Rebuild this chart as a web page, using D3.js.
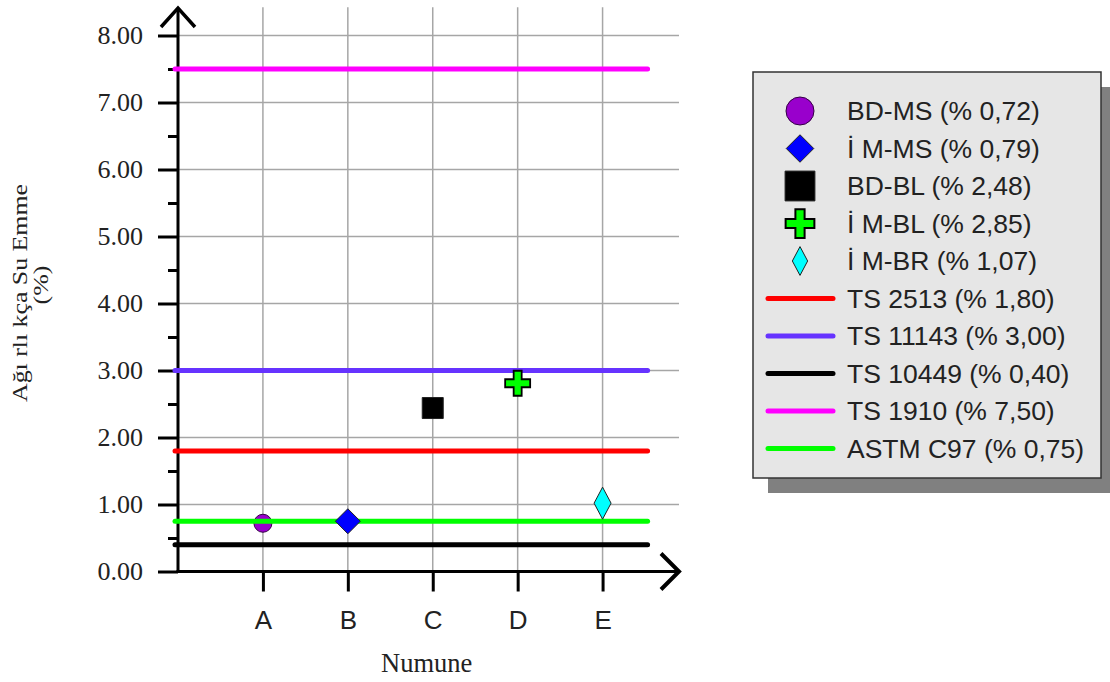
<!DOCTYPE html>
<html>
<head>
<meta charset="utf-8">
<script src="https://cdn.jsdelivr.net/npm/d3@7"></script>
<style>
  html, body { margin: 0; padding: 0; background: #ffffff; }
  svg { display: block; }
</style>
</head>
<body>
<svg id="chart" width="1110" height="682"></svg>
<script>
// ---------- DATA ----------
const categories = ["A", "B", "C", "D", "E"];
const categoryPositions = [1, 2, 3, 4, 5];

const pointNames = ["BD-MS (% 0,72)", "İ M-MS (% 0,79)", "BD-BL (% 2,48)", "İ M-BL (% 2,85)", "İ M-BR (% 1,07)"];
const pointCategories = ["A", "B", "C", "D", "E"];
// values as plotted in the picture
const pointValues = [0.72, 0.75, 2.44, 2.81, 1.02];
const pointSymbols = ["circle", "diamond", "square", "plus", "thinDiamond"];
const pointColors = ["#9900cc", "#0000ff", "#000000", "#00ff00", "#00ffff"];

const limitNames = ["TS 2513 (% 1,80)", "TS 11143 (% 3,00)", "TS 10449 (% 0,40)", "TS 1910 (% 7,50)", "ASTM C97 (% 0,75)"];
const limitValues = [1.80, 3.00, 0.40, 7.50, 0.75];
const limitColors = ["#ff0000", "#6633ff", "#000000", "#ff00ff", "#00ff00"];

const yTicks = [0, 1, 2, 3, 4, 5, 6, 7, 8];
const yTickLabels = ["0.00", "1.00", "2.00", "3.00", "4.00", "5.00", "6.00", "7.00", "8.00"];
const yMinorTicks = [0.5, 1.5, 2.5, 3.5, 4.5, 5.5, 6.5, 7.5];

const yAxisTitle = ["Ağı rlı kça Su Emme", "(%)"];
const xAxisTitle = "Numune";

// ---------- SETUP ----------
const svg = d3.select("#chart");
const x = d3.scaleLinear().domain([0, 5.9]).range([178, 679]);
const y = d3.scaleLinear().domain([0, 8]).range([571.5, 35.5]);
const catX = d3.scalePoint().domain(categories).range([x(categoryPositions[0]), x(categoryPositions[4])]);

const serif = "'Liberation Serif', 'Times New Roman', serif";
const sans = "'Liberation Sans', Arial, sans-serif";

function symbolPath(type, s) {
  switch (type) {
    case "diamond": {
      const h = 12.5 * s;
      return `M0,${-h}L${h},0L0,${h}L${-h},0Z`;
    }
    case "square": {
      const h = 10.5 * s;
      return `M${-h},${-h}H${h}V${h}H${-h}Z`;
    }
    case "plus": {
      const a = 12.5 * s, t = 4 * s;
      return `M${-t},${-a}H${t}V${-t}H${a}V${t}H${t}V${a}H${-t}V${t}H${-a}V${-t}H${-t}Z`;
    }
    case "thinDiamond": {
      const w = 8.5 * s, h = 16 * s;
      return `M0,${-h}L${w},0L0,${h}L${-w},0Z`;
    }
  }
  return "";
}

// ---------- GRID ----------
const grid = svg.append("g").attr("class", "grid");
grid.selectAll("line.h").data(yTicks.filter(d => d > 0)).enter().append("line")
  .attr("x1", x(0)).attr("x2", x(5.9))
  .attr("y1", d => y(d)).attr("y2", d => y(d))
  .attr("stroke", "#a6a6a6").attr("stroke-width", 1.5);
grid.selectAll("line.v").data(categories).enter().append("line")
  .attr("x1", d => catX(d)).attr("x2", d => catX(d))
  .attr("y1", y(0)).attr("y2", y(8.42))
  .attr("stroke", "#a6a6a6").attr("stroke-width", 1.5);

// ---------- AXES ----------
const yAxis = d3.axisLeft(y).tickValues(yTicks).tickSize(20).tickPadding(15)
  .tickFormat((d, i) => yTickLabels[i]);
const gy = svg.append("g").attr("transform", `translate(${x(0)},0)`).call(yAxis);
gy.select(".domain").remove();
gy.selectAll(".tick line").attr("stroke", "#000").attr("stroke-width", 3);
gy.selectAll(".tick text").attr("font-family", serif).attr("font-size", 26).attr("fill", "#222");

const yMinor = d3.axisLeft(y).tickValues(yMinorTicks).tickSize(10).tickFormat("");
const gym = svg.append("g").attr("transform", `translate(${x(0)},0)`).call(yMinor);
gym.select(".domain").remove();
gym.selectAll(".tick line").attr("stroke", "#000").attr("stroke-width", 3);

const xAxis = d3.axisBottom(catX).tickSize(20).tickPadding(19);
const gx = svg.append("g").attr("transform", `translate(0,${y(0)})`).call(xAxis);
gx.select(".domain").remove();
gx.selectAll(".tick line").attr("stroke", "#000").attr("stroke-width", 3);
gx.selectAll(".tick text").attr("font-family", sans).attr("font-size", 26).attr("fill", "#222");

// axis lines with arrows
svg.append("line").attr("x1", x(0)).attr("x2", x(0)).attr("y1", y(0) + 1.5).attr("y2", 8)
  .attr("stroke", "#000").attr("stroke-width", 3);
svg.append("line").attr("x1", x(0) - 1.5).attr("x2", 678).attr("y1", y(0)).attr("y2", y(0))
  .attr("stroke", "#000").attr("stroke-width", 3);
svg.append("path").attr("d", `M${x(0) - 17},27L${x(0)},8L${x(0) + 17},27`)
  .attr("fill", "none").attr("stroke", "#000").attr("stroke-width", 3.5);
svg.append("path").attr("d", `M661,${y(0) - 18}L679,${y(0)}L661,${y(0) + 18}`)
  .attr("fill", "none").attr("stroke", "#000").attr("stroke-width", 4);

// ---------- MARKS ----------
const xStart = x(0) - 3, xEnd = x(5.53);

const pointsBelow = svg.append("g");
pointNames.forEach((n, i) => {
  if (pointSymbols[i] === "circle") {
    pointsBelow.append("circle")
      .attr("cx", catX(pointCategories[i])).attr("cy", y(pointValues[i])).attr("r", 9)
      .attr("fill", pointColors[i]).attr("stroke", "#330044").attr("stroke-width", 1);
  }
});

svg.append("g").selectAll("line").data(limitValues).enter().append("line")
  .attr("x1", xStart).attr("x2", xEnd)
  .attr("y1", d => y(d)).attr("y2", d => y(d))
  .attr("stroke", (d, i) => limitColors[i]).attr("stroke-width", 5)
  .attr("stroke-linecap", "round");

const pointsAbove = svg.append("g");
pointNames.forEach((n, i) => {
  if (pointSymbols[i] !== "circle") {
    pointsAbove.append("path")
      .attr("transform", `translate(${catX(pointCategories[i])},${y(pointValues[i])})`)
      .attr("d", symbolPath(pointSymbols[i], 1))
      .attr("fill", pointColors[i])
      .attr("stroke", pointSymbols[i] === "plus" ? "#000" : "#222")
      .attr("stroke-width", pointSymbols[i] === "plus" ? 1.8 : 1);
  }
});

// ---------- AXIS TITLES ----------
svg.append("text").attr("x", catX("C") - 6).attr("y", 672).attr("text-anchor", "middle")
  .attr("font-family", serif).attr("font-size", 26.5).attr("fill", "#222").text(xAxisTitle);

svg.append("text").attr("transform", "translate(27,293) rotate(-90)")
  .attr("text-anchor", "middle").attr("font-family", serif).attr("font-size", 22)
  .attr("textLength", 218).attr("lengthAdjust", "spacingAndGlyphs")
  .attr("fill", "#222").text(yAxisTitle[0]);
svg.append("text").attr("transform", "translate(48,285) rotate(-90)")
  .attr("text-anchor", "middle").attr("font-family", serif).attr("font-size", 22)
  .attr("textLength", 39).attr("lengthAdjust", "spacingAndGlyphs")
  .attr("fill", "#222").text(yAxisTitle[1]);

// ---------- LEGEND ----------
const lg = svg.append("g");
lg.append("rect").attr("x", 768).attr("y", 87).attr("width", 348).attr("height", 406).attr("fill", "#808080");
lg.append("rect").attr("x", 753).attr("y", 72).attr("width", 348).attr("height", 406)
  .attr("fill", "#e6e6e6").attr("stroke", "#333").attr("stroke-width", 1.5);

const rowY = i => 111 + i * 37.5;
const symX = 800;
pointNames.forEach((n, i) => {
  const cy = rowY(i);
  if (pointSymbols[i] === "circle") {
    lg.append("circle").attr("cx", symX).attr("cy", cy).attr("r", 14)
      .attr("fill", pointColors[i]).attr("stroke", "#330044").attr("stroke-width", 1);
  } else {
    const sc = pointSymbols[i] === "thinDiamond" ? 0.9 : (pointSymbols[i] === "square" ? 1.42 : (pointSymbols[i] === "plus" ? 1.15 : 1.1));
    lg.append("path").attr("transform", `translate(${symX},${cy})`)
      .attr("d", symbolPath(pointSymbols[i], sc))
      .attr("fill", pointColors[i])
      .attr("stroke", pointSymbols[i] === "plus" ? "#000" : "#222")
      .attr("stroke-width", pointSymbols[i] === "plus" ? 2 : 1);
  }
  lg.append("text").attr("x", 847).attr("y", cy).attr("dy", "0.35em")
    .attr("font-family", sans).attr("font-size", 26.5).attr("fill", "#222").text(n);
});
limitNames.forEach((n, i) => {
  const cy = rowY(i + pointNames.length);
  lg.append("line").attr("x1", 768).attr("x2", 833).attr("y1", cy).attr("y2", cy)
    .attr("stroke", limitColors[i]).attr("stroke-width", 5).attr("stroke-linecap", "round");
  lg.append("text").attr("x", 847).attr("y", cy).attr("dy", "0.35em")
    .attr("font-family", sans).attr("font-size", 26.5).attr("fill", "#222").text(n);
});
</script>
</body>
</html>
